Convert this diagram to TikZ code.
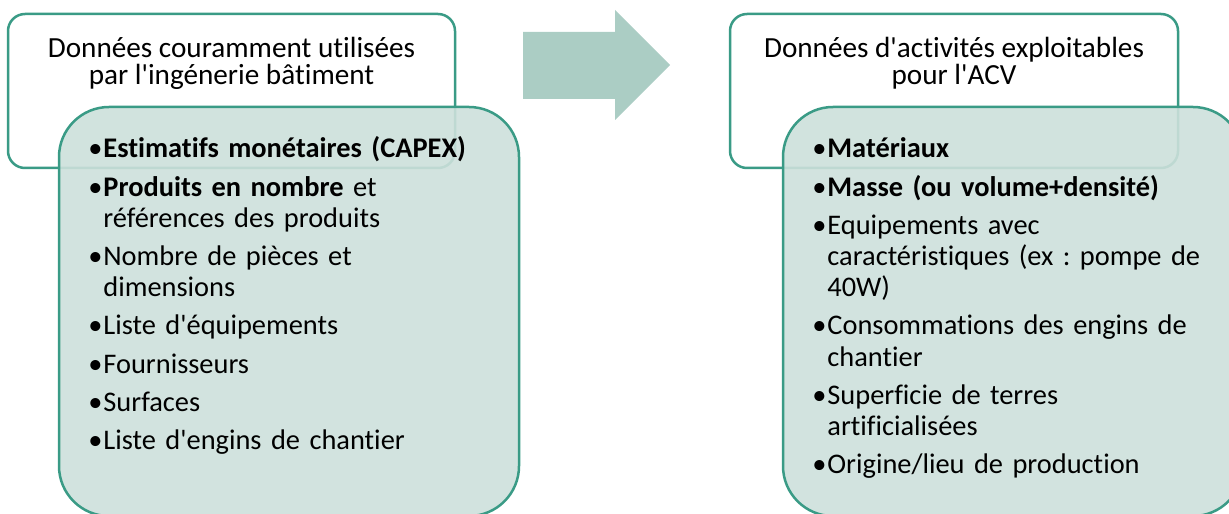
\documentclass[tikz,border=0pt]{standalone}
\usepackage{fontspec}
\setmainfont{Carlito}[Ligatures={NoCommon}]
\definecolor{boxline}{HTML}{3A9B86}
\definecolor{boxfill}{HTML}{CDE0DB}
\definecolor{arrowfill}{HTML}{ABCDC4}
\newcommand{\bul}[1]{\noindent\hangindent=7.5pt\hangafter=1\makebox[7.5pt][l]{•}#1\par}
\newcommand{\apos}{\textquotesingle}
\frenchspacing

\begin{document}
\begin{tikzpicture}[x=0.5pt,y=-0.5pt,
    outerbox/.style={draw=boxline,line width=1.25pt,fill=white,rounded corners=8.5pt},
    innerbox/.style={draw=boxline,line width=1.25pt,fill=boxfill,fill opacity=0.9,rounded corners=25pt},
    titletext/.style={align=center,inner sep=0pt,anchor=base,font=\fontsize{14.6}{13.8}\selectfont},
    listtext/.style={anchor=base west,inner sep=0pt,text width=215pt,font=\fontsize{14.2}{15.6}\selectfont}]
    \useasboundingbox (0,0) rectangle (1229,513);
    % left block
    \draw[outerbox] (8,14) rectangle (455,168);
    \node[titletext] (lefttitle) at (231.5,85) {Données couramment utilisées\\par l\apos ingénerie bâtiment};
    \draw[innerbox] (59,107) rectangle (519,516);
    \node[listtext] (leftlist) at (88,158) {\setlength{\parskip}{3.5pt}%
      \bul{\textbf{Estimatifs monétaires (CAPEX)}}
      \bul{\textbf{Produits en nombre} et\newline références des produits}
      \bul{Nombre de pièces et\newline dimensions}
      \bul{Liste d\apos équipements}
      \bul{Fournisseurs}
      \bul{Surfaces}
      \bul{Liste d\apos engins de chantier}};
    % arrow
    \fill[arrowfill] (523,32) -- (615,32) -- (615,10) -- (670,65) -- (615,120) -- (615,99) -- (523,99) -- cycle;
    % right block
    \draw[outerbox] (730,14) rectangle (1178,168);
    \node[titletext] (righttitle) at (954,85) {Données d\apos activités exploitables\\pour l\apos ACV};
    \draw[innerbox] (783,107) rectangle (1243,516);
    \node[listtext] (rightlist) at (812,158) {\setlength{\parskip}{3.5pt}%
      \bul{\textbf{Matériaux}}
      \bul{\textbf{Masse (ou volume+densité)}}
      \bul{Equipements avec\newline caractéristiques (ex : pompe de\newline 40W)}
      \bul{Consommations des engins de\newline chantier}
      \bul{Superficie de terres\newline artificialisées}
      \bul{Origine/lieu de production}};
\end{tikzpicture}
\end{document}
